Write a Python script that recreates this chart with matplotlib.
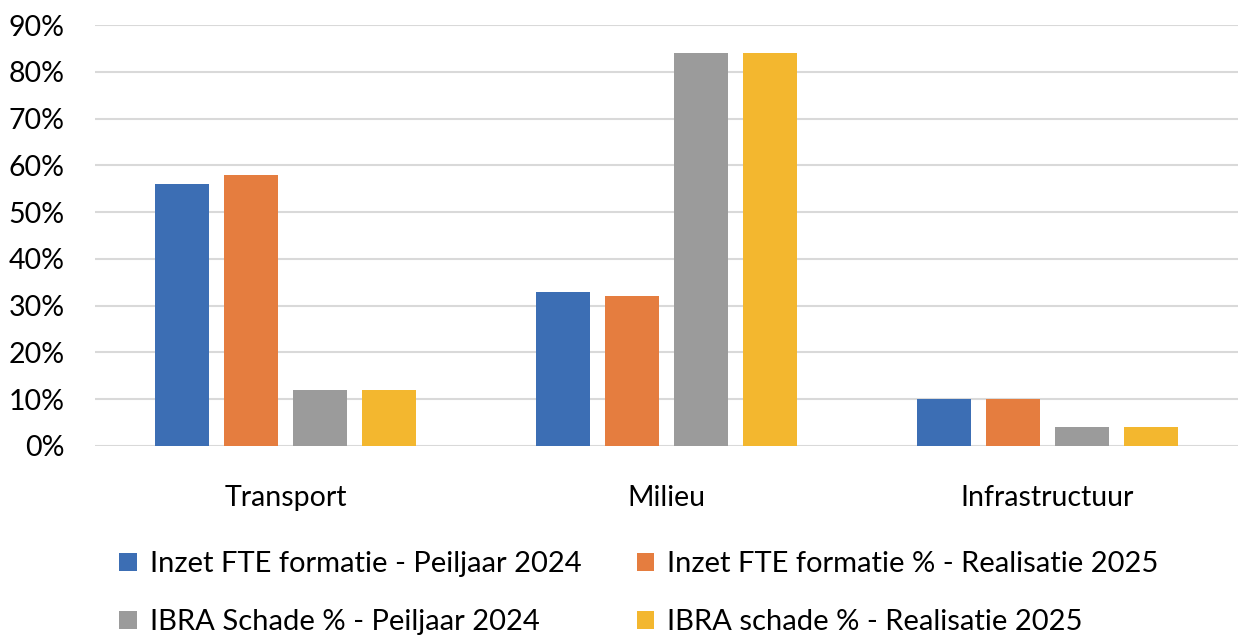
import numpy as np
import matplotlib.pyplot as plt
from matplotlib.ticker import PercentFormatter

plt.rcParams['font.family'] = ['Lato', 'DejaVu Sans']

categories = ['Transport', 'Milieu', 'Infrastructuur']
series_names = ['Inzet FTE formatie - Peiljaar 2024',
                'Inzet FTE formatie % - Realisatie 2025',
                'IBRA Schade % - Peiljaar 2024',
                'IBRA schade % - Realisatie 2025']
fte_2024 = [0.56, 0.33, 0.10]
fte_2025 = [0.58, 0.32, 0.10]
ibra_2024 = [0.12, 0.84, 0.04]
ibra_2025 = [0.12, 0.84, 0.04]
colors = ['#3C6EB4', '#E57D3F', '#9B9B9B', '#F3B72F']

series = [fte_2024, fte_2025, ibra_2024, ibra_2025]

fig = plt.figure(figsize=(12.38, 6.36), dpi=100)
ax = fig.add_axes([95 / 1238, 1 - 446 / 636, 1 - 95 / 1238, (446 - 25) / 636])

x = np.arange(len(categories))
width = 0.144
pitch = 0.181
handles = []
for i, vals in enumerate(series):
    b = ax.bar(x + (i - 1.5) * pitch, vals, width, color=colors[i],
               label=series_names[i], zorder=3)
    handles.append(b)

ax.set_xlim(-0.5, len(categories) - 0.5)
ax.set_ylim(0, 0.9)
ax.set_yticks(np.arange(0, 0.91, 0.1))
ax.yaxis.set_major_formatter(PercentFormatter(1.0, decimals=0))
ax.set_xticks(x)
ax.set_xticklabels(categories)
ax.tick_params(axis='both', length=0, labelsize=20.5, colors='black')
ax.tick_params(axis='x', pad=28)
ax.tick_params(axis='y', pad=22)
ax.grid(axis='y', color='#D9D9D9', linewidth=1.5, zorder=0)
for s in ax.spines.values():
    s.set_visible(False)

# legend is filled column by column, so reorder to get the row layout
order = [0, 2, 1, 3]
fig.legend([handles[i] for i in order], [series_names[i] for i in order],
           ncol=2, loc='lower left', bbox_to_anchor=(0.075, -0.04),
           frameon=False, fontsize=21, handlelength=0.6, handleheight=0.6,
           handletextpad=0.45, columnspacing=1.9, labelspacing=1.1)

fig.savefig('out.png', dpi=100)
